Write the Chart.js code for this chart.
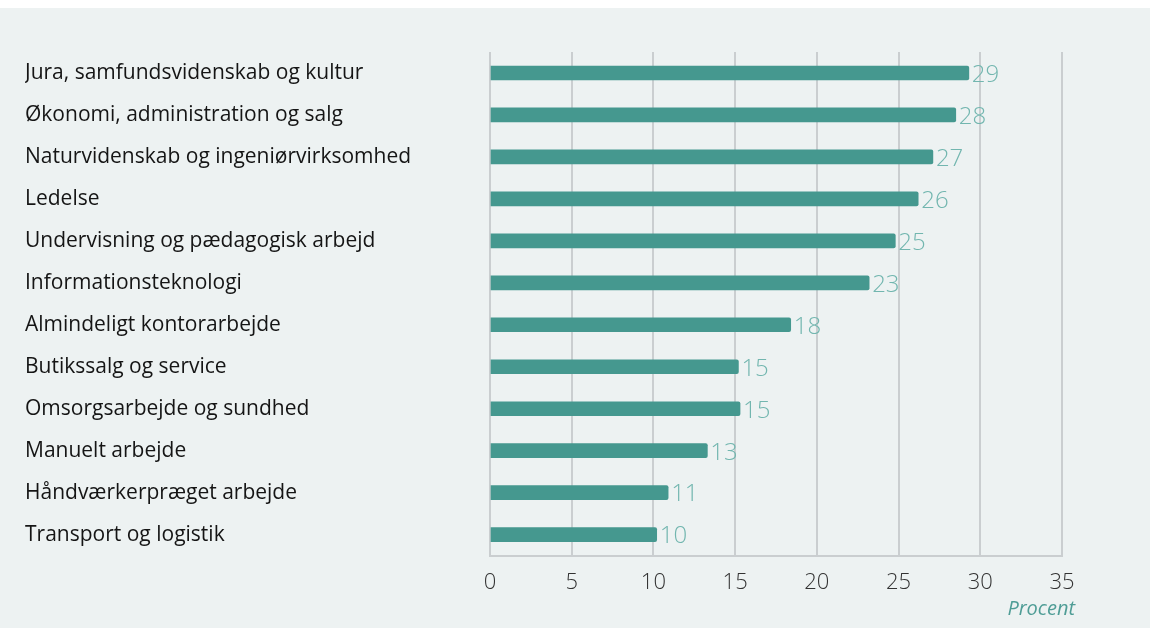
<!DOCTYPE html>
<html>
<head>
<meta charset="utf-8">
<script src="https://cdn.jsdelivr.net/npm/chart.js@4/dist/chart.umd.min.js"></script>
<style>
  body { margin: 0; background: #ffffff; }
  #wrap { margin-top: 8px; width: 1150px; height: 620px; background: #edf2f2; }
</style>
</head>
<body>
<div id="wrap"><canvas id="Jobs" width="1150" height="620"></canvas></div>
<script>
const categories = [
    'Jura, samfundsvidenskab og kultur',
    'Økonomi, administration og salg',
    'Naturvidenskab og ingeniørvirksomhed',
    'Ledelse',
    'Undervisning og pædagogisk arbejd',
    'Informationsteknologi',
    'Almindeligt kontorarbejde',
    'Butikssalg og service',
    'Omsorgsarbejde og sundhed',
    'Manuelt arbejde',
    'Håndværkerpræget arbejde',
    'Transport og logistik'
];
// bar lengths as drawn, and the rounded numbers printed next to them
const values = [29.3, 28.5, 27.1, 26.2, 24.8, 23.2, 18.4, 15.2, 15.3, 13.3, 10.9, 10.2];
const valueLabels = ['29', '28', '27', '26', '25', '23', '18', '15', '15', '13', '11', '10'];
const xTicks = [0, 5, 10, 15, 20, 25, 30, 35];
const unitLabel = 'Procent';

const teal = '#45988f';
const gridGrey = '#caced0';

const valueLabelPlugin = {
    id: 'valueLabels',
    afterDatasetsDraw(chart) {
        const ctx = chart.ctx;
        const meta = chart.getDatasetMeta(0);
        ctx.save();
        ctx.font = '300 24px "Open Sans"';
        ctx.fillStyle = '#72b6af';
        ctx.textAlign = 'left';
        ctx.textBaseline = 'middle';
        meta.data.forEach((bar, i) => {
            ctx.fillText(valueLabels[i], bar.x + 3, bar.y + 2);
        });
        ctx.restore();
    }
};

const unitPlugin = {
    id: 'unitLabel',
    afterDraw(chart) {
        const ctx = chart.ctx;
        ctx.save();
        ctx.font = 'italic 400 20px "Open Sans"';
        ctx.fillStyle = '#4f9d96';
        ctx.textAlign = 'right';
        ctx.textBaseline = 'middle';
        ctx.fillText(unitLabel, chart.chartArea.right + 13, 601);
        ctx.restore();
    }
};

new Chart(
    document.getElementById('Jobs'),
    {
        type: 'bar',
        data: {
            labels: categories,
            datasets: [
                {
                    data: values,
                    backgroundColor: teal,
                    barThickness: 14,
                    borderRadius: { topRight: 2, bottomRight: 2 },
                    borderSkipped: 'start',
                }
            ]
        },
        options: {
            indexAxis: 'y',
            responsive: false,
            animation: false,
            layout: {
                padding: { left: 25, right: 88, top: 44, bottom: 18 }
            },
            plugins: {
                legend: { display: false },
                tooltip: { enabled: false }
            },
            scales: {
                x: {
                    min: 0,
                    max: 35,
                    afterBuildTicks: (scale) => {
                        scale.ticks = xTicks.map(v => ({ value: v }));
                    },
                    grid: {
                        display: true,
                        color: gridGrey,
                        lineWidth: 2,
                        drawTicks: false,
                    },
                    border: {
                        display: true,
                        color: gridGrey,
                        width: 2,
                    },
                    ticks: {
                        padding: 14,
                        color: '#333333',
                        font: { family: 'Open Sans', size: 22, weight: 300 },
                    }
                },
                y: {
                    afterFit: (scale) => {
                        scale.width = 465;
                    },
                    grid: { display: false, drawTicks: false },
                    border: { display: false },
                    ticks: {
                        crossAlign: 'far',
                        padding: 0,
                        color: '#151515',
                        font: { family: 'Open Sans', size: 21, weight: 400 },
                    }
                }
            }
        },
        plugins: [valueLabelPlugin, unitPlugin]
    }
);
</script>
</body>
</html>
